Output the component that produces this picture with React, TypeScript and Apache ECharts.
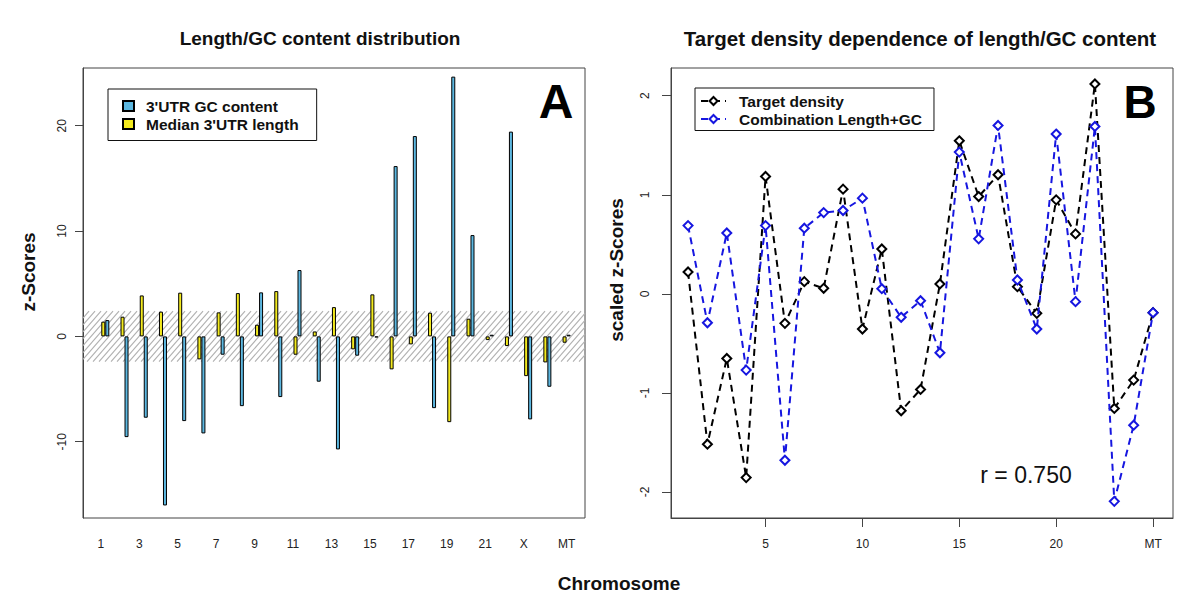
import { useEffect, useRef } from "react";
import * as echarts from "echarts";

// ---------- Panel A data ----------
const chromosomes = ["1", "2", "3", "4", "5", "6", "7", "8", "9", "10", "11", "12", "13", "14", "15", "16", "17", "18", "19", "20", "21", "22", "X", "Y", "MT"];
const medianLength = [1.40, 1.87, 3.89, 2.35, 4.15, -2.18, 2.28, 4.11, 1.11, 4.30, -1.74, 0.47, 2.78, -1.23, 3.99, -3.13, -0.76, 2.25, -8.14, 1.68, -0.35, -0.92, -3.77, -2.47, -0.60];
const gcContent = [1.55, -9.56, -7.72, -16.05, -8.04, -9.21, -1.74, -6.62, 4.18, -5.76, 6.30, -4.30, -10.73, -1.83, -0.10, 16.17, 19.02, -6.81, 24.66, 9.62, 0.16, 19.44, -7.88, -4.78, 0.16];
const bandLimits = [-2.4, 2.4];
const yTicksA = [-10, 0, 10, 20];

// ---------- Panel B data ----------
const positions = [1, 2, 3, 4, 5, 6, 7, 8, 9, 10, 11, 12, 13, 14, 15, 16, 17, 18, 19, 20, 21, 22, 23, 24, 25];
const targetDensity = [0.221, -1.518, -0.652, -1.855, 1.185, -0.298, 0.123, 0.056, 1.057, -0.355, 0.453, -1.181, -0.965, 0.10, 1.545, 0.982, 1.202, 0.072, -0.197, 0.949, 0.605, 2.119, -1.157, -0.871, -0.19];
const combination = [0.689, -0.292, 0.615, -0.770, 0.689, -1.68, 0.663, 0.82, 0.841, 0.966, 0.052, -0.237, -0.069, -0.595, 1.431, 0.555, 1.70, 0.14, -0.355, 1.613, -0.079, 1.69, -2.095, -1.326, -0.19];
const yTicksB = [-2, -1, 0, 1, 2];
const xTicksB = [5, 10, 15, 20, 25];
const xTickLabelsB = ["5", "10", "15", "20", "MT"];
const correlationText = "r = 0.750";

const FONT = "Liberation Sans, Arial, Helvetica, sans-serif";
const BLUE_BAR = "#5cb7e0";
const YELLOW_BAR = "#f3ea1e";
const BLUE_LINE = "#1616e0";

// hatched band drawn from the band limits through the y scale
function renderHatch(params: any, api: any) {
  const cs = params.coordSys;
  const top = api.coord([api.value(0), api.value(2)])[1];
  const bottom = api.coord([api.value(0), api.value(1)])[1];
  const left = cs.x;
  const right = cs.x + cs.width;
  const h = bottom - top;
  const slope = 1.15;
  const step = 6;
  const children: any[] = [];
  for (let x0 = left - h / slope; x0 < right; x0 += step) {
    let xa = x0;
    let ya = bottom;
    let xb = x0 + h / slope;
    let yb = top;
    if (xa < left) {
      ya = bottom - (left - xa) * slope;
      xa = left;
    }
    if (xb > right) {
      yb = top + (xb - right) * slope;
      xb = right;
    }
    if (xb <= xa) continue;
    children.push({
      type: "line",
      shape: { x1: xa, y1: ya, x2: xb, y2: yb },
      style: { stroke: "#b0b0b0", lineWidth: 1.1 },
    });
  }
  return { type: "group", children };
}

export default function App() {
  const ref = useRef<HTMLDivElement>(null);

  useEffect(() => {
    if (!ref.current) return;
    const chart = echarts.init(ref.current, undefined, { renderer: "svg" });

    const textStyle = (text: string, size: number, weight = "bold") => ({
      text,
      align: "center",
      verticalAlign: "middle",
      textAlign: "center",
      textVerticalAlign: "middle",
      fontSize: size,
      fontWeight: weight,
      fontFamily: FONT,
      fill: "#111",
    });

    const option: any = {
      animation: false,
      backgroundColor: "#ffffff",
      textStyle: { fontFamily: FONT },
      grid: [
        { left: 83, top: 68, width: 502, height: 450, show: true, borderColor: "#444", borderWidth: 1, backgroundColor: "transparent" },
        { left: 95.7, top: 68, width: 480.5, height: 450 },
        { left: 671, top: 68, width: 502, height: 450, show: true, borderColor: "#444", borderWidth: 1, backgroundColor: "transparent" },
      ],
      xAxis: [
        { gridIndex: 0, type: "value", min: 0, max: 1, show: false },
        {
          gridIndex: 1,
          type: "category",
          data: chromosomes,
          axisLine: { show: false, onZero: false },
          axisTick: { show: false },
          splitLine: { show: false },
          axisLabel: {
            interval: 1,
            margin: 20,
            color: "#222",
            fontSize: 12,
            fontFamily: FONT,
            formatter: (v: string) => (v === "MT" ? `{m|${v}}` : `{s|${v}}`),
            rich: {
              s: { fontSize: 12, fontFamily: FONT, color: "#222", padding: [0, 9, 0, 0] },
              m: { fontSize: 12, fontFamily: FONT, color: "#222" },
            },
          },
        },
        {
          gridIndex: 2,
          type: "value",
          min: 0.12,
          max: 26.03,
          axisLine: { show: true, onZero: false, lineStyle: { color: "#444", width: 1 } },
          axisTick: { show: true, customValues: xTicksB, length: 9, lineStyle: { color: "#444" } },
          axisLabel: {
            customValues: xTicksB,
            margin: 20,
            color: "#222",
            fontSize: 12,
            fontFamily: FONT,
            formatter: (v: number) => xTickLabelsB[xTicksB.indexOf(v)] ?? String(v),
          },
          splitLine: { show: false },
        },
      ],
      yAxis: [
        {
          gridIndex: 0,
          type: "value",
          min: -17.24,
          max: 25.48,
          axisLine: { show: true, lineStyle: { color: "#444" } },
          axisTick: { show: true, customValues: yTicksA, length: 8, lineStyle: { color: "#444" } },
          axisLabel: { customValues: yTicksA, rotate: 90, margin: 15, color: "#222", fontSize: 12, fontFamily: FONT },
          splitLine: { show: false },
        },
        { gridIndex: 1, type: "value", min: -17.24, max: 25.48, show: false },
        {
          gridIndex: 2,
          type: "value",
          min: -2.263,
          max: 2.28,
          axisLine: { show: true, lineStyle: { color: "#444" } },
          axisTick: { show: true, customValues: yTicksB, length: 9, lineStyle: { color: "#444" } },
          axisLabel: { customValues: yTicksB, rotate: 90, margin: 20, color: "#222", fontSize: 12, fontFamily: FONT },
          splitLine: { show: false },
        },
      ],
      legend: [
        {
          data: ["3'UTR GC content", "Median 3'UTR length"],
          orient: "vertical",
          left: 108,
          top: 89,
          padding: [8.5, 18, 8, 14],
          borderColor: "#111",
          borderWidth: 1,
          itemWidth: 11,
          itemHeight: 10,
          itemGap: 1,
          icon: "rect",
          textStyle: { fontSize: 15.5, fontWeight: "bold", color: "#111", fontFamily: FONT, lineHeight: 17, padding: [0, 0, 0, 7] },
        },
        {
          data: ["Target density", "Combination Length+GC"],
          orient: "vertical",
          left: 695,
          top: 88,
          padding: [4.5, 12, 3, 5],
          borderColor: "#111",
          borderWidth: 1,
          itemWidth: 25,
          itemHeight: 10,
          itemGap: 1,
          textStyle: { fontSize: 15.5, fontWeight: "bold", color: "#111", fontFamily: FONT, lineHeight: 17, padding: [0, 0, 0, 8] },
        },
      ],
      graphic: [
        { type: "text", x: 320, y: 38, style: textStyle("Length/GC content distribution", 19) },
        { type: "text", x: 920, y: 38, style: textStyle("Target density dependence of length/GC content", 20.5) },
        { type: "text", x: 619, y: 583, style: textStyle("Chromosome", 19) },
        { type: "text", x: 28, y: 272, rotation: Math.PI / 2, style: textStyle("z-Scores", 19) },
        { type: "text", x: 616, y: 270, rotation: Math.PI / 2, style: textStyle("scaled z-Scores", 19) },
        { type: "text", x: 556, y: 101, style: { ...textStyle("A", 48), fill: "#000" } },
        { type: "text", x: 1140, y: 102, style: { ...textStyle("B", 46), fill: "#000" } },
        { type: "text", x: 1026, y: 475, style: textStyle(correlationText, 23, "normal") },
      ],
      series: [
        {
          type: "custom",
          xAxisIndex: 0,
          yAxisIndex: 0,
          silent: true,
          clip: false,
          encode: { x: 0, y: [1, 2] },
          data: [[0.5, bandLimits[0], bandLimits[1]]],
          renderItem: renderHatch,
          z: 1,
        },
        {
          name: "Median 3'UTR length",
          type: "bar",
          xAxisIndex: 1,
          yAxisIndex: 1,
          data: medianLength,
          barWidth: 4,
          barGap: "0%",
          itemStyle: { color: YELLOW_BAR, borderColor: "#000", borderWidth: 1 },
          z: 3,
        },
        {
          name: "3'UTR GC content",
          type: "bar",
          xAxisIndex: 1,
          yAxisIndex: 1,
          data: gcContent,
          barWidth: 4,
          barGap: "0%",
          itemStyle: { color: BLUE_BAR, borderColor: "#000", borderWidth: 1 },
          z: 3,
        },
        {
          name: "Target density",
          type: "line",
          xAxisIndex: 2,
          yAxisIndex: 2,
          data: positions.map((p, i) => [p, targetDensity[i]]),
          symbol: "emptyDiamond",
          symbolSize: 9,
          lineStyle: { color: "#000", width: 2, type: [7, 5] },
          itemStyle: { color: "#000", borderColor: "#000", borderWidth: 2 },
          z: 3,
        },
        {
          name: "Combination Length+GC",
          type: "line",
          xAxisIndex: 2,
          yAxisIndex: 2,
          data: positions.map((p, i) => [p, combination[i]]),
          symbol: "emptyDiamond",
          symbolSize: 9,
          lineStyle: { color: BLUE_LINE, width: 2, type: [7, 5] },
          itemStyle: { color: BLUE_LINE, borderColor: BLUE_LINE, borderWidth: 2 },
          z: 4,
        },
      ],
    };

    chart.setOption(option);
    return () => chart.dispose();
  }, []);

  return (
    <div
      ref={ref}
      style={{ position: "fixed", left: 0, top: 0, width: 1200, height: 615, background: "#fff" }}
    />
  );
}
